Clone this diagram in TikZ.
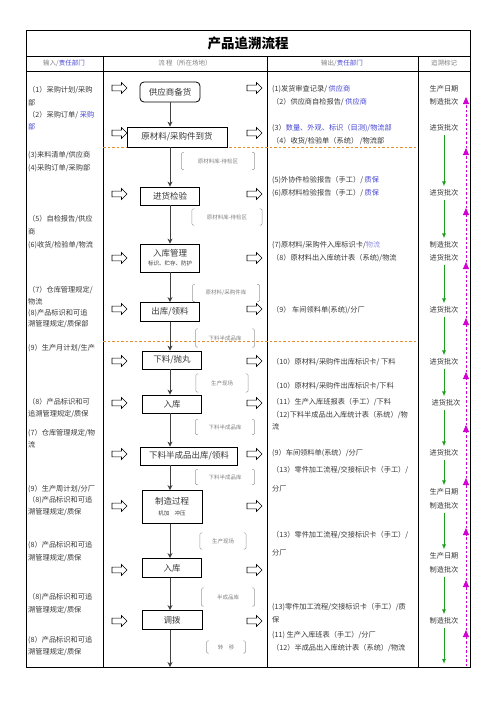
\documentclass[tikz,border=0pt]{standalone}
\usepackage{fontspec}
\setmainfont{Noto Sans CJK SC}
\usetikzlibrary{shapes.arrows,arrows.meta}
\definecolor{bl}{RGB}{70,70,210}
\definecolor{tg}{RGB}{55,55,55}
\definecolor{og}{RGB}{230,140,40}
\definecolor{gr}{RGB}{30,160,30}
\definecolor{mg}{RGB}{210,0,210}
\newcommand\mybrk[1]{%
 \draw[brk] ([xshift=2.5pt]#1.north west) -- (#1.north west) -- (#1.south west) -- ([xshift=2.5pt]#1.south west);
 \draw[brk] ([xshift=-2.5pt]#1.north east) -- (#1.north east) -- (#1.south east) -- ([xshift=-2.5pt]#1.south east);}
\begin{document}
\begin{tikzpicture}[x=1pt,y=-1pt,
  tx/.style={anchor=west,inner sep=0,text=tg,font=\fontsize{7.2}{9}\selectfont},
  tk/.style={anchor=center,inner sep=0,text=tg,font=\fontsize{7.2}{9}\selectfont},
  hd/.style={inner sep=0,text=gray,font=\fontsize{6.5}{8}\selectfont},
  fbox/.style={draw,line width=0.8pt,inner sep=0,font=\fontsize{8.5}{10}\selectfont,text=tg},
  lab/.style={inner sep=0,text=gray,font=\fontsize{5.5}{7}\selectfont},
  brk/.style={draw=gray!80,line width=0.5pt,rounded corners=1.5pt},
  flow/.style={line width=1pt,draw=black!75,-{Stealth[length=5pt,width=5pt]}},
  harrow/.style={single arrow,draw,line width=0.6pt,single arrow head extend=2.6pt,inner sep=2.6pt,minimum height=15pt,minimum width=11pt},
  garrow/.style={gr,line width=1pt,-{Latex[length=5pt,width=4pt]}},
  marrow/.style={mg,line width=0.8pt,dash pattern=on 2.5pt off 2pt,-{Triangle[length=7pt,width=6pt]}},
  odash/.style={og,dash pattern=on 2.5pt off 2pt,line width=0.6pt}
]
\useasboundingbox (0,0) rectangle (496,702);
% table
\draw[line width=1pt] (26,30) rectangle (470,667);
\draw[line width=0.8pt] (26,56) -- (470,56);
\draw[line width=0.8pt] (26,71) -- (470,71);
\foreach \x in {103,267,418} \draw[line width=0.8pt] (\x,56) -- (\x,667);
\node[font=\bfseries\fontsize{13.5}{15}\selectfont] (title) at (248,43) {产品追溯流程};
\node[hd] (h1) at (64,63.5) {输入/\textcolor{bl}{责任部门}};
\node[hd] (h2) at (185,63.5) {流\ 程（所在场地）};
\node[hd] (h3) at (342,63.5) {输出/\textcolor{bl}{责任部门}};
\node[hd] (h4) at (444,63.5) {追溯标记};
% orange dashed lines
\coordinate (o1a) at (103,147); \coordinate (o1b) at (418,147);
\coordinate (o2a) at (103,341); \coordinate (o2b) at (418,341);
\draw[odash] (o1a) -- (o1b);
\draw[odash] (o2a) -- (o2b);
% flow boxes
\node[fbox,rounded corners=4pt,minimum width=60,minimum height=20] (b1) at (170,92) {供应商备货};
\node[fbox,minimum width=100,minimum height=20] (b2) at (177,137) {原材料/采购件到货};
\node[fbox,minimum width=59,minimum height=18] (b3) at (170,196) {进货检验};
\node[fbox,minimum width=59,minimum height=28,align=center] (b4) at (170,258) {入库管理\\[-1pt]{\fontsize{5.5}{7}\selectfont 标识、贮存、防护}};
\node[fbox,minimum width=59,minimum height=19] (b5) at (170,312) {出库/领料};
\node[fbox,minimum width=59,minimum height=18] (b6) at (172,360) {下料/抛丸};
\node[fbox,minimum width=59,minimum height=18] (b7) at (172,404) {入库};
\node[fbox,minimum width=97,minimum height=18] (b8) at (189,456) {下料半成品出库/领料};
\node[fbox,minimum width=60,minimum height=33,align=center] (b9) at (172,507) {制造过程\\[1pt]{\fontsize{5.5}{7}\selectfont 机加\quad 冲压}};
\node[fbox,minimum width=59,minimum height=19] (b10) at (172,568) {入库};
\node[fbox,minimum width=60,minimum height=19] (b11) at (172,620) {调拨};
\coordinate (ax) at (170,0);
\coordinate (fend) at (170,667);
\draw[flow] (b1.south -| ax) -- (b2.north -| ax);
\draw[flow] (b2.south -| ax) -- (b3.north -| ax);
\draw[flow] (b3.south -| ax) -- (b4.north -| ax);
\draw[flow] (b4.south -| ax) -- (b5.north -| ax);
\draw[flow] (b5.south -| ax) -- (b6.north -| ax);
\draw[flow] (b6.south -| ax) -- (b7.north -| ax);
\draw[flow] (b7.south -| ax) -- (b8.north -| ax);
\draw[flow] (b8.south -| ax) -- (b9.north -| ax);
\draw[flow] (b9.south -| ax) -- (b10.north -| ax);
\draw[flow] (b10.south -| ax) -- (b11.north -| ax);
\draw[flow] (b11.south -| ax) -- (fend);
% place labels
\node[lab,minimum width=73,minimum height=17] (l1) at (218,161) {原材料库-待检区};
\node[lab,minimum width=70,minimum height=16] (l2) at (227,217) {原材料库-待检区};
\node[lab,minimum width=67,minimum height=17] (l3) at (226,293) {原材料/采购件库};
\node[lab,minimum width=59,minimum height=18] (l4) at (225,338) {下料半成品库};
\node[lab,minimum width=52,minimum height=18] (l5) at (222,383) {生产现场};
\node[lab,minimum width=59,minimum height=15] (l6) at (225,427) {下料半成品库};
\node[lab,minimum width=59,minimum height=15] (l7) at (225,477) {下料半成品库};
\node[lab,minimum width=46,minimum height=16] (l8) at (223,541) {生产现场};
\node[lab,minimum width=53,minimum height=18] (l9) at (228,597) {半成品库};
\node[lab,minimum width=39,minimum height=12] (l10) at (226,647) {转\quad 移};
\foreach \n in {l1,l2,l3,l4,l5,l6,l7,l8,l9,l10} {\mybrk{\n}}
% hollow arrows
\foreach \y [count=\i] in {88,133,194,258,309,361,403,454,506,570,621} {
  \node[harrow] (la\i) at (118,\y) {};
  \node[harrow] (ra\i) at (253,\y) {};
}
% input column
\node[tx] (i1) at (28,90) {（1）采购计划/采购};
\node[tx] (i2) at (28,103) {部};
\node[tx] (i3) at (28,115) {（2）采购订单/ \textcolor{bl}{采购}};
\node[tx] (i4) at (28,127) {\textcolor{bl}{部}};
\node[tx] (i5) at (28,155) {(3)来料清单/供应商};
\node[tx] (i6) at (28,168) {(4)采购订单/采购部};
\node[tx] (i7) at (28,219) {（5）自检报告/供应};
\node[tx] (i8) at (28,232) {商};
\node[tx] (i9) at (28,245) {(6)收货/检验单/物流};
\node[tx] (i10) at (28,290) {（7）仓库管理规定/};
\node[tx] (i11) at (28,302) {物流};
\node[tx] (i12) at (28,313) {(8)产品标识和可追};
\node[tx] (i13) at (28,324) {溯管理规定/质保部};
\node[tx] (i14) at (28,348) {(9）生产月计划/生产};
\node[tx] (i15) at (28,402) {（8）产品标识和可};
\node[tx] (i16) at (28,414) {追溯管理规定/质保};
\node[tx] (i17) at (28,433) {(7）仓库管理规定/物};
\node[tx] (i18) at (28,445) {流};
\node[tx] (i19) at (28,489) {(9）生产周计划/分厂};
\node[tx] (i20) at (28,500) {（8)产品标识和可追};
\node[tx] (i21) at (28,512) {溯管理规定/质保};
\node[tx] (i22) at (28,545) {(8）产品标识和可追};
\node[tx] (i23) at (28,558) {溯管理规定/质保};
\node[tx] (i24) at (28,597) {（8)产品标识和可追};
\node[tx] (i25) at (28,610) {溯管理规定/质保};
\node[tx] (i26) at (28,640) {(8）产品标识和可追};
\node[tx] (i27) at (28,652) {溯管理规定/质保};
% output column
\node[tx] (p1) at (272,89) {(1)发货审查记录/ \textcolor{bl}{供应商}};
\node[tx] (p2) at (272,102) {（2）供应商自检报告/ \textcolor{bl}{供应商}};
\node[tx] (p3) at (272,128) {(3）\textcolor{bl}{数量、外观、标识（目测)/物流部}};
\node[tx] (p4) at (272,141) {（4）收货/检验单（系统） /物流部};
\node[tx] (p5) at (272,180) {(5)外协件检验报告（手工）/ \textcolor{bl}{质保}};
\node[tx] (p6) at (272,193) {(6)原材料检验报告（手工）/ \textcolor{bl}{质保}};
\node[tx] (p7) at (272,245) {(7)原材料/采购件入库标识卡/\textcolor{bl!60}{物流}};
\node[tx] (p8) at (272,258) {（8）原材料出入库统计表（系统)/物流};
\node[tx] (p9) at (272,310) {（9）\ 车间领料单(系统)/分厂};
\node[tx] (p10) at (272,362) {（10）原材料/采购件出库标识卡/ 下料};
\node[tx] (p11) at (272,386) {（10）原材料/采购件出库标识卡/下料};
\node[tx] (p12) at (272,402) {（11）生产入库班报表（手工）/下料};
\node[tx] (p13) at (272,415) {（12)下料半成品出入库统计表（系统）/物};
\node[tx] (p14) at (272,427) {流};
\node[tx] (p15) at (272,453) {(9）车间领料单(系统）/分厂};
\node[tx] (p16) at (272,470) {（13）零件加工流程/交接标识卡（手工）/};
\node[tx] (p17) at (272,489) {分厂};
\node[tx] (p18) at (272,535) {（13）零件加工流程/交接标识卡（手工）/};
\node[tx] (p19) at (272,553) {分厂};
\node[tx] (p20) at (272,607) {(13)零件加工流程/交接标识卡（手工）/质};
\node[tx] (p21) at (272,620) {保};
\node[tx] (p22) at (272,635) {(11) 生产入库班表（手工）/分厂};
\node[tx] (p23) at (272,648) {（12）半成品出入库统计表（系统）/物流};
% tracking column
\node[tk] (k1) at (444,89) {生产日期};
\node[tk] (k2) at (444,102) {制造批次};
\node[tk] (k3) at (444,128) {进货批次};
\node[tk] (k4) at (444,193) {进货批次};
\node[tk] (k5) at (444,245) {制造批次};
\node[tk] (k6) at (444,258) {进货批次};
\node[tk] (k7) at (444,310) {进货批次};
\node[tk] (k8) at (444,362) {进货批次};
\node[tk] (k9) at (446,403) {进货批次};
\node[tk] (k10) at (444,453) {进货批次};
\node[tk] (k11) at (444,492) {生产日期};
\node[tk] (k12) at (444,506) {制造批次};
\node[tk] (k13) at (444,556) {生产日期};
\node[tk] (k14) at (444,570) {制造批次};
\node[tk] (k15) at (444,621) {制造批次};
\coordinate (gx) at (444,0);
\coordinate (gend) at (444,664);
\foreach \a/\b in {k3/k4,k4/k5,k6/k7,k7/k8,k8/k9,k9/k10,k10/k11,k12/k13,k14/k15}
  \draw[garrow] ([yshift=-3pt]\a.south -| gx) -- ([yshift=3pt]\b.north -| gx);
\draw[garrow] ([yshift=-3pt]k15.south -| gx) -- (gend);
% magenta dashed arrows
\foreach \y [count=\i] in {97,148,208,262,318,372,425,478,528,580,630,666}
  \coordinate (m\i) at (466,\y);
\foreach \i in {1,...,11} {
  \pgfmathtruncatemacro{\j}{\i+1}
  \draw[marrow] (m\j) -- (m\i);
}
\end{tikzpicture}
\end{document}
